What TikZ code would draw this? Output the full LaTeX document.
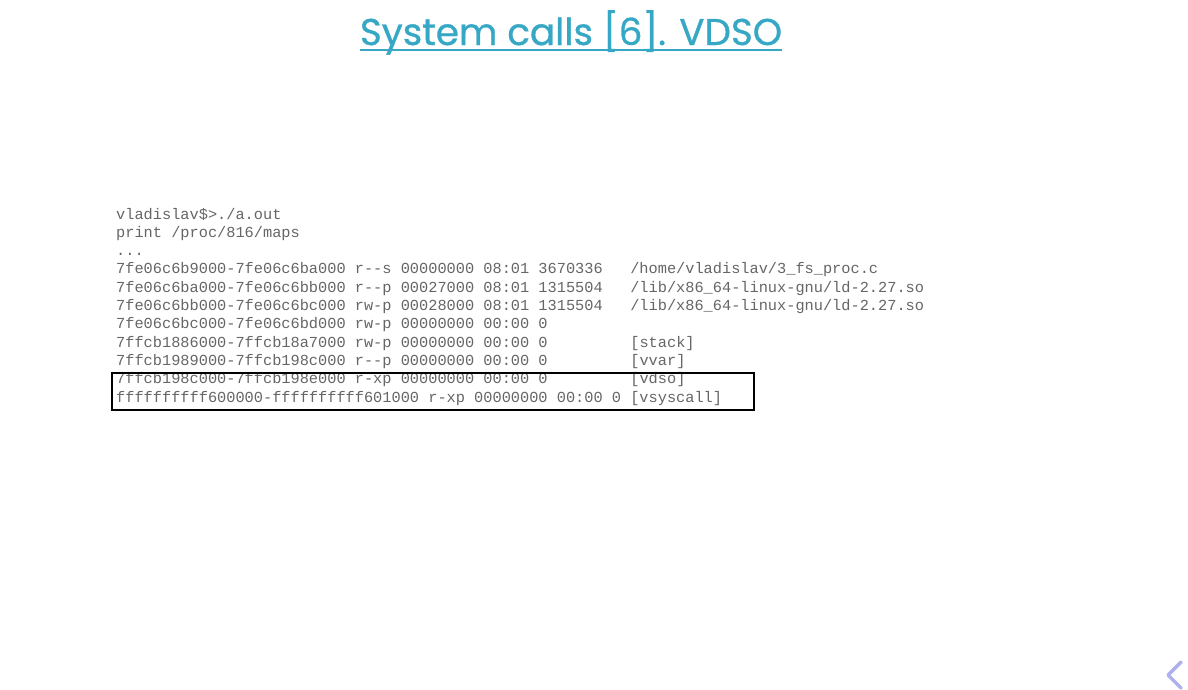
\documentclass[tikz,border=0pt]{standalone}
\usepackage{fontspec}
\setmainfont{Liberation Sans}
\newfontfamily\titlefont{Poppins}[FakeBold=0.8]
\newfontfamily\codefont{Liberation Mono}
\definecolor{titleblue}{HTML}{36A8C6}
\definecolor{codegray}{HTML}{666666}
\definecolor{chevron}{HTML}{B0B0EE}
\begin{document}
\begin{tikzpicture}[x=1pt,y=-1pt,
  codeline/.style={anchor=base west,inner sep=0pt,text=codegray,font=\codefont\fontsize{15.3}{18}\selectfont},
  titlestyle/.style={anchor=base,inner sep=0pt,text=titleblue,font=\titlefont\fontsize{37.3}{44}\selectfont}]
\useasboundingbox[fill=white] (0,0) rectangle (1188,689);
\node[titlestyle] (title) at (571,45) {System calls [6]. VDSO};
\draw[titleblue,line width=2pt] ([yshift=-5pt]title.base west) -- ([yshift=-5pt]title.base east);
\node[codeline] (l0) at (116,219.0) {vladislav\$>./a.out};
\node[codeline] (l1) at (116,237.3) {print /proc/816/maps};
\node[codeline] (l2) at (116,255.6) {...};
\node[codeline] (l3) at (116,273.9) {7fe06c6b9000-7fe06c6ba000 r-{}-s 00000000 08:01 3670336\ \ \ /home/vladislav/3\_fs\_proc.c};
\node[codeline] (l4) at (116,292.2) {7fe06c6ba000-7fe06c6bb000 r-{}-p 00027000 08:01 1315504\ \ \ /lib/x86\_64-linux-gnu/ld-2.27.so};
\node[codeline] (l5) at (116,310.5) {7fe06c6bb000-7fe06c6bc000 rw-p 00028000 08:01 1315504\ \ \ /lib/x86\_64-linux-gnu/ld-2.27.so};
\node[codeline] (l6) at (116,328.8) {7fe06c6bc000-7fe06c6bd000 rw-p 00000000 00:00 0};
\node[codeline] (l7) at (116,347.1) {7ffcb1886000-7ffcb18a7000 rw-p 00000000 00:00 0\ \ \ \ \ \ \ \ \ [stack]};
\node[codeline] (l8) at (116,365.4) {7ffcb1989000-7ffcb198c000 r-{}-p 00000000 00:00 0\ \ \ \ \ \ \ \ \ [vvar]};
\node[codeline] (l9) at (116,383.7) {7ffcb198c000-7ffcb198e000 r-xp 00000000 00:00 0\ \ \ \ \ \ \ \ \ [vdso]};
\node[codeline] (l10) at (116,402.0) {ffffffffff600000-ffffffffff601000 r-xp 00000000 00:00 0 [vsyscall]};
\node[draw=black,line width=2pt,inner sep=0pt,minimum width=642pt,minimum height=37pt,anchor=north west] (box) at (111,372) {};
\draw[chevron,line width=3.5pt,line cap=round,line join=round] (1181,662) -- (1168,675) -- (1181,688);
\end{tikzpicture}
\end{document}
